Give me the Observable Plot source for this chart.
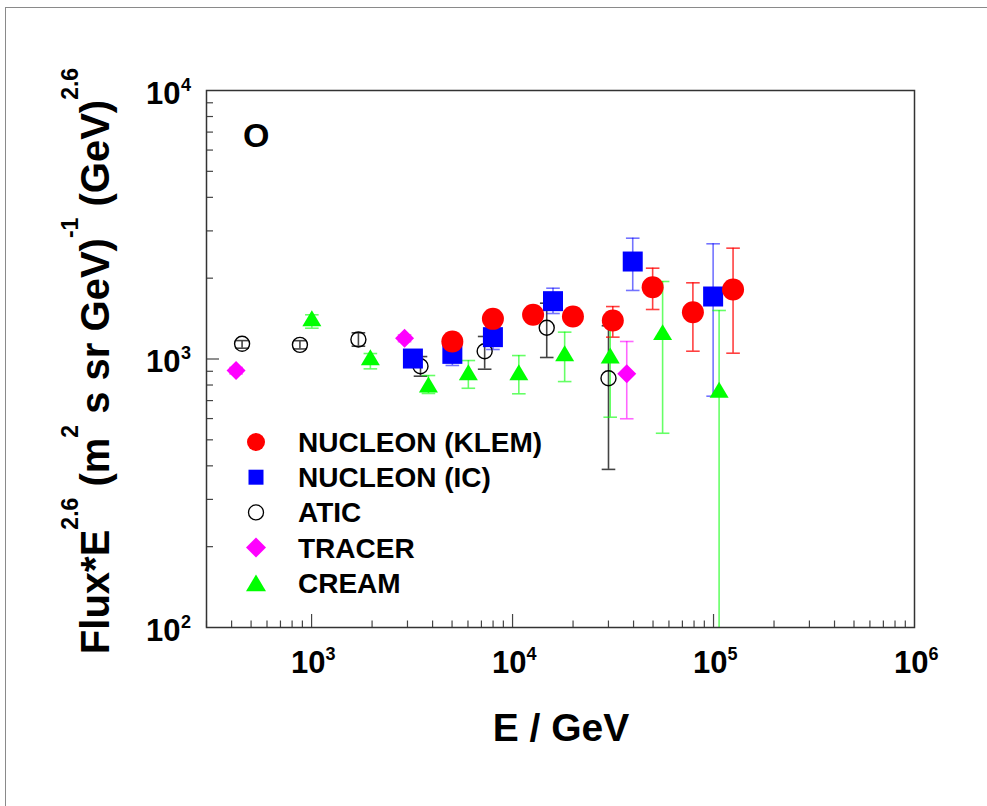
<!DOCTYPE html>
<html><head><meta charset="utf-8">
<script src="https://cdn.jsdelivr.net/npm/d3@7"></script>
<script src="https://cdn.jsdelivr.net/npm/@observablehq/plot@0.6"></script>
<style>
html,body{margin:0;padding:0;background:#fff;}
#wrap{position:relative;width:987px;height:806px;overflow:hidden;background:#fff;}
#border{position:absolute;left:5px;top:7px;width:1200px;height:1200px;border-left:1.5px solid #8a8a8a;border-top:1.5px solid #8a8a8a;}
#wrap svg{position:absolute;left:0;top:0;}
</style></head><body>
<div id="wrap"><div id="border"></div></div>
<script>
// ---------- data ----------
const klemE  = [5017, 7985, 12653, 19976, 31537, 49780, 78950, 125080];
const klemF  = [1162, 1411, 1461, 1440, 1391, 1851, 1494, 1815];
const klemLo = [1120, 1365, 1415, 1395, 1206, 1529, 1069, 1051];
const klemHi = [1205, 1460, 1510, 1490, 1568, 2179, 1922, 2587];

const icE  = [3193, 5017, 7985, 15896, 39627, 99540];
const icF  = [1004, 1045, 1206, 1642, 2307, 1709];
const icLo = [965, 946, 1085, 1477, 1800, 727];
const icHi = [1045, 1100, 1330, 1835, 2818, 2686];

const aticE  = [451, 875, 1710, 3483, 7264, 14792, 30018];
const aticF  = [1139, 1129, 1182, 940, 1069, 1307, 848];
const aticLo = [1097, 1090, 1116, 863, 916, 1013, 388];
const aticHi = [1171, 1170, 1252, 1021, 1213, 1614, 1330];

const tracerE  = [421, 2901, 37000];
const tracerF  = [906, 1195, 881];
const tracerLo = [880, 1160, 599];
const tracerHi = [930, 1230, 1162];

const creamE  = [1003, 1961, 3815, 6026, 10745, 18166, 30611, 55800, 106600];
const creamF  = [1419, 1016, 803, 893, 893, 1051, 1030, 1259, 768];
const creamLo = [1302, 919, 744, 778, 742, 824, 607, 529, 1];
const creamHi = [1461, 1048, 868, 987, 1030, 1259, 1350, 1944, 1516];

const xMajor = [1e3, 1e4, 1e5, 1e6];
const xMajorExp = ["3", "4", "5", "6"];
const yMajor = [1e2, 1e3, 1e4];
const yMajorExp = ["2", "3", "4"];
const legendLabels = ["NUCLEON (KLEM)", "NUCLEON (IC)", "ATIC", "TRACER", "CREAM"];
const panelLabel = "O";
const xTitle = "E / GeV";
const yTitleParts = [["Flux*E", 0], ["2.6", 1], [" (m", 0], ["2", 1], [" s sr GeV)", 0], ["-1", 1], [" (GeV)", 0], ["2.6", 1]];

// ---------- helpers ----------
const rows = (E, F, lo, hi) => E.map((e, i) => ({E: e, F: F[i], lo: lo[i], hi: hi[i]}));
const rad = (size) => Math.sqrt(size / Math.PI);
const capSym = {draw(c, s) { const r = rad(s); c.moveTo(-r, 0); c.lineTo(r, 0); }};
const squareSym = {draw(c, s) { const r = rad(s); c.moveTo(-r, -r); c.lineTo(r, -r); c.lineTo(r, r); c.lineTo(-r, r); c.closePath(); }};
const diamondSym = {draw(c, s) { const r = rad(s); c.moveTo(0, -r); c.lineTo(r, 0); c.lineTo(0, r); c.lineTo(-r, 0); c.closePath(); }};
const triSym = {draw(c, s) { const r = rad(s), h = r * 0.84; c.moveTo(0, -h); c.lineTo(r, h); c.lineTo(-r, h); c.closePath(); }};
const circSym = {draw(c, s) { const r = rad(s); c.moveTo(r, 0); c.arc(0, 0, r, 0, 2 * Math.PI); }};

const series = [
  {name: "ATIC",   data: rows(aticE, aticF, aticLo, aticHi),       symbol: circSym,    r: 7.5,  fill: "none",    stroke: "#000", sw: 1.4, err: "#444", eo: 1},
  {name: "TRACER", data: rows(tracerE, tracerF, tracerLo, tracerHi), symbol: diamondSym, r: 9.5,  fill: "#ff00ff", stroke: "none", sw: 0, err: "#ff00ff", eo: 0.6},
  {name: "IC",     data: rows(icE, icF, icLo, icHi),               symbol: squareSym,  r: 10,   fill: "#0000ff", stroke: "none", sw: 0, err: "#0000ff", eo: 0.55},
  {name: "KLEM",   data: rows(klemE, klemF, klemLo, klemHi),       symbol: circSym,    r: 11,   fill: "#ff0000", stroke: "none", sw: 0, err: "#ff0000", eo: 0.75},
  {name: "CREAM",  data: rows(creamE, creamF, creamLo, creamHi),   symbol: triSym,     r: 9.5,  fill: "#00ff00", stroke: "none", sw: 0, err: "#00ff00", eo: 0.6}
];

const minorOf = (lo, hi) => { const t = []; for (let k = lo; k <= hi; k++) for (let m = 2; m <= 9; m++) t.push(m * 10 ** k); return t; };
const xMinor = minorOf(2, 5).filter(v => v >= 300 && v <= 1e6);
const yMinor = minorOf(2, 3);

const font = "Liberation Sans, Arial, Helvetica, sans-serif";

const marks = [];
for (const s of series) {
  marks.push(Plot.ruleX(s.data, {x: "E", y1: "lo", y2: "hi", stroke: s.err, strokeOpacity: s.eo, strokeWidth: 1.6, clip: true}));
  marks.push(Plot.dot(s.data, {x: "E", y: "lo", symbol: capSym, r: 6.8, stroke: s.err, strokeOpacity: s.eo, strokeWidth: 1.6, fill: "none", clip: true}));
  marks.push(Plot.dot(s.data, {x: "E", y: "hi", symbol: capSym, r: 6.8, stroke: s.err, strokeOpacity: s.eo, strokeWidth: 1.6, fill: "none", clip: true}));
}
for (const s of series) {
  marks.push(Plot.dot(s.data, {x: "E", y: "F", symbol: s.symbol, r: s.r, fill: s.fill, stroke: s.stroke, strokeWidth: s.sw}));
}

const tickStyle = {tickFormat: () => "", label: null, stroke: "#444", strokeWidth: 1.2};
const chart = Plot.plot({
  width: 987, height: 806,
  marginLeft: 206, marginRight: 73, marginTop: 90, marginBottom: 179,
  style: {background: "transparent", fontFamily: font, overflow: "visible"},
  x: {type: "log", domain: [300, 1e6], axis: null, label: null},
  y: {type: "log", domain: [100, 1e4], axis: null, label: null},
  marks: [
    Plot.axisX({ticks: xMinor, anchor: "bottom", tickSize: -6.5, ...tickStyle}),
    Plot.axisX({ticks: xMajor.slice(0, 3), anchor: "bottom", tickSize: -13, ...tickStyle}),
    Plot.axisY({ticks: yMinor, anchor: "left", tickSize: -7, ...tickStyle}),
    Plot.axisY({ticks: yMajor.slice(1, 2), anchor: "left", tickSize: -13, ...tickStyle}),
    Plot.text(xMajor, {x: d => d, frameAnchor: "bottom", text: () => "10", textAnchor: "end", lineAnchor: "bottom", dx: 14, dy: 45, fontSize: 31, fontWeight: "bold", fill: "#000"}),
    Plot.text(xMajor, {x: d => d, frameAnchor: "bottom", text: (d, i) => xMajorExp[i], textAnchor: "start", lineAnchor: "bottom", dx: 14, dy: 32, fontSize: 18, fontWeight: "bold", fill: "#000"}),
    Plot.text(yMajor, {y: d => d, frameAnchor: "left", text: () => "10", textAnchor: "end", lineAnchor: "bottom", dx: -26, dy: 13, fontSize: 31, fontWeight: "bold", fill: "#000"}),
    Plot.text(yMajor, {y: d => d, frameAnchor: "left", text: (d, i) => yMajorExp[i], textAnchor: "start", lineAnchor: "bottom", dx: -25.5, dy: 0, fontSize: 18, fontWeight: "bold", fill: "#000"}),
    ...marks,
    Plot.frame({stroke: "#333", strokeWidth: 1.5})
  ]
});
document.getElementById("wrap").appendChild(chart);

// ---------- overlay: titles, panel label, legend ----------
const ov = d3.select("#wrap").append("svg").attr("width", 987).attr("height", 806)
  .style("font-family", font).style("pointer-events", "none");

ov.append("text").attr("x", 243).attr("y", 147).attr("font-size", 34).attr("font-weight", "bold").text(panelLabel);

ov.append("text").attr("x", 561).attr("y", 741).attr("text-anchor", "middle").attr("font-size", 39).attr("font-weight", "bold").text(xTitle);

const yt = ov.append("text").attr("transform", "translate(109,361) rotate(-90)").attr("text-anchor", "middle")
  .attr("font-size", 40).attr("font-weight", "bold");
let prevSup = false;
for (const [t, sup] of yTitleParts) {
  const ts = yt.append("tspan").text(t);
  if (sup) { ts.attr("dy", -31).attr("font-size", 23); prevSup = true; }
  else if (prevSup) { ts.attr("dy", 31); prevSup = false; }
}

const legSyms = [
  {sym: circSym, r: 9, fill: "#ff0000", stroke: "none"},
  {sym: squareSym, r: 7.5, fill: "#0000ff", stroke: "none"},
  {sym: circSym, r: 7.5, fill: "none", stroke: "#000"},
  {sym: diamondSym, r: 10, fill: "#ff00ff", stroke: "none"},
  {sym: triSym, r: 10, fill: "#00ff00", stroke: "none"}
];
legendLabels.forEach((lab, i) => {
  const y = 442 + i * 35.2;
  const p = d3.path();
  legSyms[i].sym.draw(p, Math.PI * legSyms[i].r ** 2);
  ov.append("path").attr("d", p.toString()).attr("transform", `translate(256,${y})`)
    .attr("fill", legSyms[i].fill).attr("stroke", legSyms[i].stroke).attr("stroke-width", 1.3);
  ov.append("text").attr("x", 298).attr("y", y + 10).attr("font-size", 28).attr("font-weight", "bold").text(lab);
});
</script>
</body></html>
